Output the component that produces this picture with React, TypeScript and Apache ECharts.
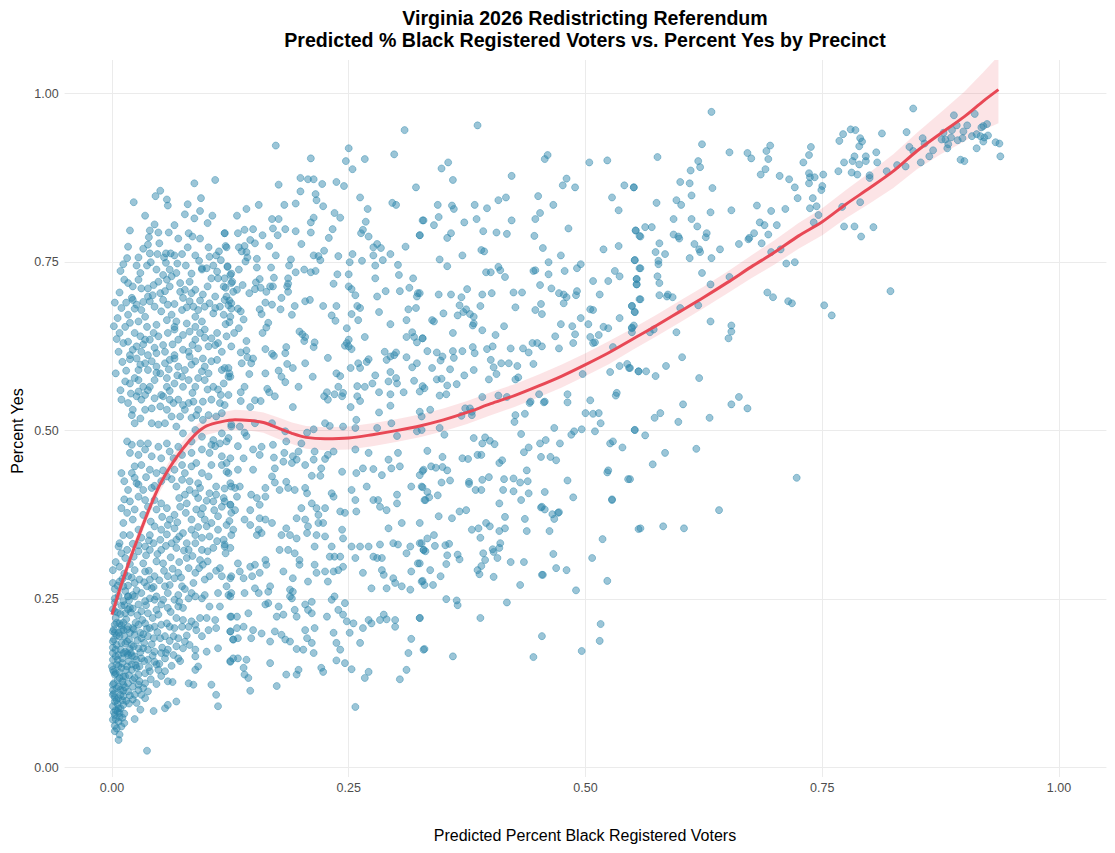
import React, { useEffect, useRef } from "react";
import * as echarts from "echarts";

const TITLE_LINES = [
  "Virginia 2026 Redistricting Referendum",
  "Predicted % Black Registered Voters vs. Percent Yes by Precinct",
];
const X_TITLE = "Predicted Percent Black Registered Voters";
const Y_TITLE = "Percent Yes";
const TICKS = [0, 0.25, 0.5, 0.75, 1];

const ptsTopLeft = [
  [0.087,0.867],[0.109,0.872],[0.051,0.856],[0.046,0.848],[0.058,0.843],[0.059,0.834],[0.023,0.839],[0.094,0.845],[0.080,0.836],
  [0.035,0.819],[0.077,0.821],[0.087,0.815],[0.093,0.826],[0.106,0.819],[0.101,0.808],[0.045,0.806],[0.019,0.797],[0.040,0.797],[0.049,0.794],[0.060,0.794],[0.066,0.805],[0.081,0.793],[0.085,0.788],[0.093,0.785],[0.119,0.793],[0.039,0.787],[0.070,0.785],
  [0.017,0.773],[0.028,0.757],[0.016,0.756],[0.012,0.747],[0.038,0.776],[0.040,0.763],[0.050,0.778],[0.057,0.763],[0.062,0.763],[0.066,0.760],[0.074,0.762],[0.080,0.772],[0.088,0.760],[0.102,0.772],[0.113,0.766],[0.110,0.760],[0.120,0.774],[0.041,0.750],[0.037,0.745],[0.055,0.757],[0.078,0.745],[0.095,0.741],[0.103,0.758],[0.115,0.753],[0.122,0.743],
  [0.013,0.724],[0.017,0.719],[0.028,0.724],[0.022,0.714],[0.031,0.711],[0.038,0.711],[0.044,0.716],[0.049,0.721],[0.054,0.731],[0.058,0.724],[0.063,0.729],[0.068,0.734],[0.072,0.719],[0.077,0.709],[0.082,0.721],[0.088,0.709],[0.095,0.739],[0.100,0.741],[0.105,0.726],[0.111,0.736],[0.112,0.726],[0.118,0.714],[0.125,0.731],[0.126,0.719],[0.121,0.699],[0.109,0.699],[0.096,0.702],[0.084,0.704],[0.072,0.706],[0.061,0.714],[0.051,0.704],[0.038,0.699],[0.021,0.697],[0.030,0.734],[0.047,0.739],[0.061,0.739],
  [0.010,0.682],[0.017,0.672],[0.022,0.694],[0.026,0.687],[0.031,0.679],[0.035,0.669],[0.028,0.662],[0.019,0.660],[0.040,0.692],[0.045,0.684],[0.054,0.694],[0.059,0.687],[0.052,0.677],[0.063,0.672],[0.058,0.664],[0.068,0.662],[0.074,0.679],[0.075,0.697],[0.082,0.692],[0.086,0.684],[0.091,0.679],[0.088,0.669],[0.098,0.684],[0.103,0.689],[0.107,0.674],[0.114,0.684],[0.118,0.672],[0.125,0.669],[0.095,0.662],[0.079,0.659],[0.066,0.654],[0.047,0.657],[0.037,0.654],[0.014,0.654],[0.126,0.689],
];

const ptsUpperLeftExtra = [
  [0.003,0.690],[0.008,0.705],[0.015,0.690],[0.024,0.681],[0.033,0.691],[0.043,0.701],[0.056,0.707],[0.066,0.688],[0.079,0.683],[0.093,0.693],[0.101,0.714],[0.109,0.682],[0.120,0.658],[0.111,0.645],[0.098,0.638],[0.085,0.627],[0.064,0.628],[0.045,0.623],[0.033,0.628],[0.022,0.620],[0.011,0.602],[0.042,0.603],[0.060,0.591],[0.084,0.598],[0.102,0.585],[0.111,0.605],[0.026,0.745],[0.048,0.762],[0.069,0.748],[0.092,0.752],[0.107,0.745],[0.033,0.770],[0.057,0.749],[0.084,0.733],[0.120,0.712],[0.009,0.737],[0.006,0.667],[0.002,0.655],[0.009,0.560],[0.004,0.585],[0.015,0.589],[0.028,0.575],[0.047,0.586],[0.069,0.582],[0.085,0.556],[0.101,0.561],[0.115,0.553],[0.035,0.553],[0.020,0.555],[0.061,0.559],
];

const ptsMidLeft = [
  [0.005,0.636],[0.017,0.632],[0.012,0.630],[0.024,0.645],[0.030,0.640],[0.035,0.635],[0.026,0.625],[0.031,0.617],[0.040,0.635],[0.044,0.645],[0.049,0.640],[0.054,0.627],[0.059,0.645],[0.066,0.650],[0.070,0.635],[0.075,0.642],[0.082,0.647],[0.088,0.654],[0.093,0.645],[0.088,0.635],[0.098,0.650],[0.105,0.637],[0.112,0.630],[0.121,0.640],[0.109,0.627],[0.102,0.625],[0.091,0.622],[0.081,0.617],[0.075,0.620],[0.066,0.612],[0.056,0.617],[0.047,0.615],[0.038,0.612],[0.007,0.617],[0.019,0.612],[0.008,0.645],[0.126,0.625],[0.116,0.617],
  [0.019,0.606],[0.026,0.607],[0.030,0.598],[0.035,0.600],[0.028,0.590],[0.038,0.590],[0.047,0.595],[0.056,0.600],[0.061,0.605],[0.066,0.607],[0.070,0.595],[0.077,0.590],[0.082,0.610],[0.088,0.603],[0.096,0.607],[0.098,0.595],[0.095,0.588],[0.105,0.603],[0.116,0.590],[0.123,0.593],[0.125,0.580],[0.118,0.570],[0.107,0.565],[0.112,0.561],[0.098,0.575],[0.091,0.578],[0.088,0.565],[0.081,0.575],[0.074,0.580],[0.075,0.565],[0.066,0.570],[0.058,0.578],[0.051,0.585],[0.045,0.575],[0.040,0.565],[0.033,0.565],[0.028,0.558],[0.019,0.570],[0.014,0.573],[0.024,0.578],[0.058,0.565],[0.054,0.551],
  [0.010,0.546],[0.017,0.541],[0.022,0.531],[0.021,0.523],[0.026,0.551],[0.031,0.546],[0.038,0.560],[0.045,0.548],[0.052,0.553],[0.061,0.546],[0.065,0.541],[0.070,0.546],[0.075,0.538],[0.077,0.531],[0.081,0.541],[0.086,0.543],[0.091,0.531],[0.096,0.543],[0.105,0.546],[0.114,0.541],[0.119,0.538],[0.116,0.526],[0.110,0.521],[0.102,0.523],[0.096,0.516],[0.089,0.523],[0.084,0.519],[0.072,0.521],[0.063,0.521],[0.058,0.531],[0.051,0.536],[0.042,0.533],[0.035,0.531],[0.030,0.518],[0.024,0.511],[0.042,0.511],[0.049,0.509],[0.056,0.511],[0.068,0.506],[0.075,0.496],[0.088,0.501],[0.095,0.491],[0.107,0.486],[0.116,0.496],[0.126,0.506],
];

const ptsLowerLeft = [
  [0.016,0.484],[0.021,0.479],[0.030,0.481],[0.038,0.481],[0.049,0.476],[0.058,0.481],[0.070,0.476],[0.084,0.484],[0.105,0.479],[0.114,0.481],[0.121,0.484],[0.019,0.467],[0.028,0.464],[0.035,0.472],[0.042,0.462],[0.052,0.459],[0.061,0.469],[0.065,0.459],[0.074,0.464],[0.084,0.467],[0.095,0.472],[0.103,0.467],[0.109,0.477],[0.116,0.462],[0.125,0.459],
  [0.010,0.437],[0.024,0.447],[0.031,0.449],[0.040,0.442],[0.047,0.437],[0.024,0.430],[0.017,0.412],[0.026,0.422],[0.033,0.412],[0.042,0.415],[0.052,0.425],[0.058,0.432],[0.066,0.442],[0.074,0.449],[0.077,0.437],[0.084,0.447],[0.089,0.452],[0.095,0.437],[0.082,0.425],[0.091,0.422],[0.102,0.432],[0.105,0.449],[0.116,0.449],[0.121,0.439],[0.125,0.422],[0.110,0.417],[0.068,0.417],[0.074,0.427],
  [0.010,0.385],[0.016,0.378],[0.012,0.363],[0.019,0.395],[0.028,0.402],[0.022,0.368],[0.035,0.397],[0.038,0.387],[0.045,0.397],[0.047,0.383],[0.052,0.392],[0.058,0.385],[0.061,0.368],[0.066,0.375],[0.072,0.387],[0.077,0.405],[0.079,0.392],[0.088,0.407],[0.091,0.400],[0.089,0.383],[0.096,0.385],[0.098,0.368],[0.103,0.407],[0.107,0.395],[0.118,0.400],[0.116,0.387],[0.125,0.390],[0.112,0.373],[0.126,0.378],[0.105,0.363],[0.084,0.368],
  [0.008,0.333],[0.007,0.328],[0.019,0.345],[0.028,0.353],[0.031,0.341],[0.040,0.345],[0.045,0.358],[0.052,0.353],[0.044,0.333],[0.051,0.338],[0.059,0.360],[0.066,0.355],[0.068,0.338],[0.063,0.333],[0.075,0.348],[0.084,0.353],[0.088,0.345],[0.079,0.333],[0.088,0.333],[0.095,0.341],[0.100,0.358],[0.103,0.343],[0.112,0.353],[0.118,0.338],[0.121,0.360],[0.126,0.345],[0.119,0.328],[0.107,0.326],[0.095,0.323],[0.081,0.323],[0.068,0.326],[0.052,0.323],[0.040,0.323],[0.028,0.321],[0.016,0.323],
  [0.001,0.293],[0.001,0.274],[0.008,0.298],[0.014,0.311],[0.024,0.293],[0.017,0.284],[0.012,0.269],[0.024,0.274],[0.033,0.303],[0.035,0.291],[0.040,0.279],[0.045,0.284],[0.042,0.266],[0.031,0.259],[0.022,0.256],[0.047,0.306],[0.054,0.303],[0.059,0.284],[0.056,0.269],[0.066,0.281],[0.070,0.289],[0.074,0.269],[0.079,0.311],[0.081,0.296],[0.088,0.289],[0.086,0.274],[0.093,0.308],[0.096,0.301],[0.098,0.279],[0.103,0.284],[0.114,0.296],[0.116,0.284],[0.121,0.269],[0.126,0.259],[0.112,0.259],[0.098,0.256],[0.084,0.259],[0.070,0.256],[0.059,0.259],[0.047,0.254],[0.017,0.254],[0.037,0.269],
];

const ptsMidLeftExtra = [
  [0.013,0.425],[0.021,0.437],[0.028,0.420],[0.036,0.431],[0.045,0.418],[0.054,0.441],[0.063,0.428],[0.071,0.400],[0.082,0.412],[0.093,0.415],[0.100,0.396],[0.110,0.405],[0.119,0.414],[0.013,0.398],[0.024,0.383],[0.033,0.375],[0.041,0.365],[0.053,0.372],[0.069,0.364],[0.078,0.378],[0.094,0.376],[0.108,0.382],[0.124,0.366],[0.012,0.345],[0.022,0.332],[0.035,0.328],[0.058,0.346],[0.071,0.343],[0.091,0.357],[0.111,0.336],[0.120,0.318],[0.101,0.321],
];

const ptsBottomLeft = [
  [0.003,0.251],[0.012,0.247],[0.017,0.254],[0.024,0.254],[0.028,0.242],[0.035,0.247],[0.040,0.251],[0.045,0.249],[0.052,0.242],[0.059,0.237],[0.066,0.249],[0.070,0.239],[0.075,0.237],[0.081,0.251],[0.088,0.254],[0.095,0.251],[0.103,0.239],[0.114,0.239],[0.126,0.224],[0.003,0.232],[0.014,0.229],[0.019,0.237],[0.031,0.232],[0.038,0.229],[0.047,0.234],[0.068,0.222],[0.075,0.219],[0.093,0.222],[0.100,0.222],[0.109,0.219],[0.125,0.254],
  [0.003,0.212],[0.008,0.214],[0.001,0.202],[0.007,0.200],[0.012,0.204],[0.017,0.209],[0.022,0.207],[0.028,0.212],[0.035,0.214],[0.040,0.207],[0.045,0.209],[0.052,0.212],[0.058,0.214],[0.061,0.209],[0.066,0.207],[0.074,0.209],[0.081,0.209],[0.088,0.212],[0.024,0.197],[0.031,0.192],[0.038,0.195],[0.044,0.192],[0.051,0.192],[0.056,0.195],[0.065,0.195],[0.070,0.192],[0.077,0.187],[0.082,0.182],[0.089,0.204],[0.095,0.195],[0.102,0.204],[0.110,0.207],[0.125,0.202],[0.128,0.190],
  [0.001,0.187],[0.005,0.182],[0.010,0.185],[0.016,0.187],[0.021,0.182],[0.028,0.177],[0.033,0.177],[0.038,0.175],[0.045,0.172],[0.052,0.170],[0.059,0.175],[0.065,0.167],[0.070,0.162],[0.075,0.177],[0.088,0.175],[0.088,0.165],[0.100,0.172],[0.112,0.177],[0.128,0.162],[0.001,0.170],[0.007,0.167],[0.012,0.170],[0.017,0.167],[0.024,0.165],[0.031,0.162],[0.038,0.160],[0.045,0.157],[0.056,0.162],
  [0.000,0.150],[0.005,0.153],[0.010,0.148],[0.016,0.150],[0.021,0.145],[0.026,0.148],[0.003,0.138],[0.008,0.133],[0.014,0.135],[0.001,0.123],[0.007,0.120],[0.012,0.123],[0.017,0.125],[0.022,0.130],[0.028,0.138],[0.035,0.140],[0.040,0.143],[0.028,0.123],[0.035,0.125],[0.038,0.113],[0.031,0.108],[0.024,0.108],[0.017,0.113],[0.001,0.108],[0.007,0.103],[0.012,0.106],[0.003,0.098],[0.047,0.153],[0.056,0.143],[0.059,0.128],[0.068,0.098],[0.081,0.125],[0.086,0.123],[0.088,0.145],[0.091,0.150],[0.105,0.123],[0.110,0.108],[0.112,0.091],[0.125,0.158],[0.022,0.101],[0.035,0.103],[0.028,0.115],[0.049,0.145],
  [0.001,0.091],[0.007,0.088],[0.012,0.093],[0.003,0.078],[0.008,0.081],[0.001,0.071],[0.007,0.068],[0.010,0.061],[0.003,0.054],[0.007,0.041],[0.024,0.072],[0.030,0.086],[0.044,0.084],[0.056,0.088],[0.059,0.093],[0.037,0.025],
];

const ptsLeftColumn = [
  [0.002,0.190],[0.006,0.160],[0.004,0.140],[0.009,0.175],[0.011,0.155],[0.013,0.195],[0.005,0.215],[0.015,0.220],[0.002,0.125],[0.009,0.115],[0.004,0.085],[0.011,0.100],[0.018,0.190],[0.020,0.170],[0.006,0.230],[0.010,0.240],[0.014,0.262],[0.019,0.200],[0.023,0.180],[0.026,0.160],[0.003,0.062],[0.008,0.075],[0.002,0.110],[0.006,0.130],[0.015,0.145],[0.012,0.135],[0.004,0.175],[0.008,0.195],[0.016,0.205],[0.003,0.245],[0.007,0.255],[0.012,0.215],[0.020,0.230],[0.025,0.215],[0.030,0.200],[0.034,0.185],[0.029,0.150],[0.022,0.120],[0.018,0.095],[0.013,0.080],[0.005,0.100],[0.001,0.145],[0.001,0.160],[0.009,0.088],[0.016,0.170],[0.003,0.200],[0.010,0.205],[0.017,0.235],[0.006,0.270],[0.011,0.280],
];

const ptsDenseCore = [
  [0.001,0.235],[0.004,0.222],[0.009,0.228],[0.013,0.241],[0.018,0.248],[0.022,0.236],[0.027,0.226],[0.032,0.219],[0.036,0.241],[0.043,0.222],[0.049,0.227],[0.054,0.249],[0.062,0.231],[0.071,0.246],
  [0.002,0.205],[0.005,0.196],[0.010,0.211],[0.014,0.184],[0.019,0.176],[0.023,0.205],[0.027,0.189],[0.033,0.198],[0.037,0.206],[0.042,0.183],[0.048,0.201],[0.053,0.178],[0.061,0.188],[0.068,0.180],[0.079,0.196],[0.084,0.217],
  [0.001,0.178],[0.004,0.165],[0.007,0.151],[0.011,0.162],[0.014,0.172],[0.018,0.158],[0.021,0.166],[0.025,0.152],[0.030,0.171],[0.034,0.158],[0.039,0.149],[0.043,0.166],[0.050,0.154],[0.057,0.170],[0.063,0.151],[0.072,0.158],
  [0.002,0.142],[0.005,0.118],[0.008,0.141],[0.011,0.128],[0.014,0.119],[0.018,0.137],[0.021,0.153],[0.024,0.133],[0.029,0.128],[0.033,0.118],[0.041,0.131],[0.047,0.124],[0.052,0.136],[0.064,0.127],
  [0.001,0.115],[0.003,0.104],[0.006,0.094],[0.009,0.108],[0.012,0.114],[0.015,0.099],[0.019,0.107],[0.026,0.096],[0.004,0.072],[0.006,0.083],[0.011,0.074],[0.002,0.082],[0.005,0.058],[0.008,0.049],[0.013,0.066],
  [0.003,0.265],[0.008,0.276],[0.013,0.288],[0.017,0.270],[0.021,0.282],[0.026,0.263],[0.029,0.279],[0.034,0.275],[0.039,0.292],[0.044,0.268],[0.050,0.278],[0.055,0.292],[0.061,0.271],[0.064,0.295],[0.073,0.282],[0.077,0.265],
  [0.004,0.305],[0.010,0.318],[0.019,0.302],[0.023,0.313],[0.028,0.330],[0.036,0.315],[0.039,0.337],[0.048,0.317],[0.057,0.329],[0.062,0.312],[0.071,0.305],[0.076,0.322],[0.085,0.314],[0.092,0.296],[0.101,0.306],[0.110,0.292],
];

const ptsUpperMid = [
  [0.309,0.946],[0.173,0.923],[0.250,0.919],[0.210,0.904],[0.298,0.910],[0.247,0.900],[0.267,0.903],[0.254,0.888],[0.199,0.875],[0.207,0.873],[0.213,0.873],[0.222,0.866],[0.176,0.865],[0.237,0.869],[0.245,0.863],[0.321,0.861],[0.199,0.855],[0.215,0.851],[0.216,0.842],[0.262,0.846],[0.155,0.835],[0.182,0.835],[0.194,0.837],[0.223,0.833],[0.142,0.829],[0.270,0.829],[0.296,0.838],[0.300,0.835],[0.235,0.823],[0.132,0.819],[0.241,0.816],[0.213,0.816],[0.210,0.809],[0.169,0.814],[0.176,0.814],[0.268,0.810],[0.328,0.812],
  [0.119,0.793],[0.133,0.793],[0.140,0.798],[0.149,0.799],[0.159,0.790],[0.175,0.790],[0.170,0.800],[0.183,0.799],[0.194,0.796],[0.210,0.794],[0.233,0.799],[0.229,0.786],[0.263,0.793],[0.265,0.798],[0.271,0.788],[0.325,0.790],[0.146,0.783],[0.151,0.778],[0.166,0.774],[0.200,0.777],[0.121,0.772],[0.134,0.772],[0.140,0.774],[0.137,0.766],[0.142,0.765],[0.276,0.772],[0.280,0.777],[0.284,0.771],[0.310,0.773],
  [0.143,0.757],[0.141,0.751],[0.153,0.755],[0.173,0.760],[0.189,0.754],[0.213,0.760],[0.218,0.759],[0.224,0.767],[0.220,0.753],[0.239,0.759],[0.254,0.762],[0.264,0.752],[0.276,0.760],[0.286,0.753],[0.294,0.762],[0.122,0.744],[0.126,0.733],[0.134,0.739],[0.153,0.742],[0.168,0.742],[0.187,0.745],[0.119,0.726],[0.127,0.721],[0.171,0.727],[0.194,0.735],[0.203,0.739],[0.210,0.735],[0.215,0.737],[0.238,0.732],[0.250,0.732],[0.251,0.750],[0.278,0.745],[0.278,0.726],[0.302,0.746],[0.303,0.731],[0.318,0.726],
  [0.128,0.706],[0.138,0.716],[0.132,0.709],[0.152,0.720],[0.156,0.725],[0.157,0.712],[0.151,0.710],[0.163,0.706],[0.167,0.714],[0.170,0.714],[0.145,0.704],[0.186,0.726],[0.186,0.718],[0.186,0.706],[0.185,0.714],[0.234,0.718],[0.250,0.714],[0.253,0.710],[0.257,0.701],[0.280,0.699],[0.289,0.707],[0.304,0.707],[0.314,0.712],[0.322,0.699],[0.323,0.704],
  [0.119,0.694],[0.124,0.693],[0.123,0.686],[0.126,0.681],[0.133,0.681],[0.136,0.677],[0.139,0.665],[0.124,0.661],[0.134,0.652],[0.129,0.645],[0.156,0.680],[0.158,0.673],[0.162,0.690],[0.169,0.687],[0.178,0.680],[0.179,0.697],[0.190,0.672],[0.193,0.685],[0.204,0.692],[0.209,0.694],[0.223,0.685],[0.237,0.685],[0.232,0.671],[0.236,0.663],[0.253,0.673],[0.260,0.664],[0.259,0.685],[0.262,0.682],[0.282,0.676],[0.294,0.658],[0.311,0.664],[0.313,0.680],[0.321,0.682],
  [0.165,0.660],[0.163,0.653],[0.159,0.645],[0.142,0.633],[0.198,0.647],[0.201,0.643],[0.204,0.639],[0.203,0.633],[0.214,0.631],[0.213,0.624],[0.248,0.652],[0.250,0.635],[0.248,0.630],[0.250,0.625],[0.253,0.621],[0.246,0.626],[0.267,0.639],[0.311,0.639],[0.317,0.646],[0.319,0.639],[0.322,0.631],[0.328,0.637],
  [0.136,0.616],[0.142,0.619],[0.143,0.609],[0.137,0.600],[0.149,0.607],[0.147,0.600],[0.162,0.621],[0.169,0.614],[0.171,0.611],[0.184,0.624],[0.183,0.615],[0.204,0.600],[0.228,0.608],[0.119,0.593],[0.123,0.580],[0.124,0.585],[0.145,0.584],[0.162,0.585],[0.176,0.589],[0.179,0.580],[0.183,0.572],[0.185,0.599],[0.191,0.593],[0.212,0.580],[0.237,0.585],[0.241,0.581],[0.252,0.593],[0.260,0.600],[0.262,0.593],[0.269,0.602],[0.271,0.606],
  [0.278,0.582],[0.288,0.617],[0.290,0.605],[0.294,0.610],[0.298,0.612],[0.300,0.616],[0.294,0.587],[0.300,0.578],[0.311,0.609],[0.317,0.594],[0.322,0.600],[0.319,0.574],[0.328,0.566],
  [0.123,0.553],[0.136,0.557],[0.140,0.565],[0.136,0.544],[0.164,0.562],[0.166,0.557],[0.172,0.551],[0.197,0.565],[0.227,0.557],[0.224,0.551],[0.228,0.546],[0.235,0.554],[0.239,0.565],[0.243,0.551],[0.244,0.556],[0.252,0.535],[0.259,0.566],[0.262,0.544],[0.259,0.551],[0.267,0.565],[0.275,0.570],[0.282,0.557],[0.294,0.554],[0.292,0.573],[0.301,0.570],[0.308,0.557],[0.191,0.535],[0.151,0.545],[0.146,0.535],[0.157,0.544],[0.294,0.537],[0.282,0.527],
];

const ptsLowerMid = [
  [0.126,0.509],[0.135,0.506],[0.140,0.497],[0.151,0.511],[0.169,0.511],[0.183,0.499],[0.206,0.497],[0.213,0.502],[0.225,0.511],[0.230,0.507],[0.244,0.506],[0.257,0.504],[0.258,0.516],[0.280,0.504],[0.295,0.511],[0.301,0.492],[0.322,0.499],[0.123,0.489],[0.142,0.492],[0.184,0.484],[0.200,0.481],[0.234,0.469],[0.257,0.472],
  [0.133,0.477],[0.149,0.472],[0.156,0.464],[0.158,0.476],[0.170,0.479],[0.171,0.460],[0.182,0.467],[0.181,0.454],[0.172,0.444],[0.169,0.432],[0.172,0.423],[0.162,0.415],[0.191,0.462],[0.195,0.457],[0.197,0.469],[0.190,0.452],[0.204,0.449],[0.214,0.469],[0.213,0.457],[0.225,0.458],[0.228,0.464],[0.221,0.444],[0.211,0.433],[0.220,0.433],
  [0.121,0.452],[0.123,0.437],[0.133,0.442],[0.139,0.459],[0.149,0.442],[0.126,0.417],[0.130,0.415],[0.135,0.417],[0.243,0.439],[0.258,0.437],[0.265,0.444],[0.271,0.467],[0.276,0.443],[0.285,0.434],[0.292,0.457],[0.295,0.444],[0.302,0.467],[0.304,0.447],[0.325,0.434],[0.329,0.442],
  [0.184,0.424],[0.186,0.415],[0.193,0.412],[0.204,0.415],[0.206,0.407],[0.177,0.412],[0.162,0.402],[0.153,0.400],[0.147,0.405],[0.132,0.402],[0.119,0.395],[0.125,0.390],[0.130,0.382],[0.146,0.382],[0.156,0.390],
  [0.211,0.392],[0.216,0.385],[0.218,0.375],[0.225,0.385],[0.232,0.407],[0.234,0.402],[0.241,0.380],[0.246,0.378],[0.253,0.412],[0.257,0.397],[0.258,0.380],[0.269,0.417],[0.276,0.397],[0.281,0.397],[0.283,0.387],[0.290,0.382],[0.301,0.392],[0.301,0.405],[0.306,0.363],[0.316,0.417],[0.327,0.417],[0.330,0.397],
  [0.128,0.353],[0.140,0.368],[0.146,0.360],[0.156,0.370],[0.162,0.368],[0.169,0.363],[0.155,0.353],[0.153,0.345],[0.158,0.348],[0.179,0.345],[0.184,0.355],[0.188,0.345],[0.195,0.340],[0.195,0.370],[0.204,0.368],[0.200,0.385],[0.207,0.358],[0.206,0.348],[0.218,0.363],[0.223,0.363],[0.216,0.345],[0.243,0.353],[0.244,0.340],[0.225,0.343],[0.232,0.328],[0.214,0.328],
  [0.253,0.328],[0.257,0.311],[0.262,0.328],[0.271,0.328],[0.276,0.313],[0.280,0.311],[0.283,0.331],[0.285,0.311],[0.292,0.355],[0.297,0.333],[0.302,0.331],[0.311,0.318],[0.315,0.328],[0.323,0.303],[0.327,0.333],[0.329,0.323],
  [0.119,0.331],[0.125,0.326],[0.126,0.284],[0.125,0.281],[0.133,0.303],[0.135,0.291],[0.146,0.298],[0.151,0.301],[0.139,0.281],[0.148,0.284],[0.151,0.266],[0.156,0.289],[0.162,0.308],[0.163,0.301],
  [0.177,0.323],[0.186,0.323],[0.193,0.318],[0.198,0.308],[0.198,0.301],[0.181,0.291],[0.191,0.281],[0.188,0.264],[0.191,0.261],[0.207,0.276],[0.214,0.301],[0.216,0.289],[0.225,0.291],[0.228,0.276],[0.230,0.313],[0.235,0.313],[0.241,0.313],[0.244,0.298],[0.234,0.291],[0.239,0.293],
  [0.265,0.289],[0.274,0.266],[0.285,0.293],[0.287,0.286],[0.290,0.266],[0.297,0.281],[0.299,0.274],[0.306,0.269],[0.315,0.264],[0.316,0.291],[0.327,0.276],[0.330,0.271],
  [0.123,0.256],[0.140,0.259],[0.155,0.259],[0.165,0.261],[0.167,0.269],[0.165,0.244],[0.162,0.242],[0.176,0.239],[0.188,0.254],[0.190,0.251],
  [0.204,0.242],[0.211,0.246],[0.207,0.234],[0.211,0.229],[0.232,0.249],[0.235,0.254],[0.239,0.234],[0.244,0.227],[0.246,0.244],[0.248,0.217],[0.255,0.214],[0.227,0.224],
  [0.125,0.224],[0.132,0.224],[0.144,0.229],[0.125,0.202],[0.132,0.207],[0.139,0.209],[0.149,0.204],[0.158,0.199],[0.133,0.192],[0.128,0.190],[0.147,0.192],[0.167,0.187],
  [0.174,0.224],[0.181,0.227],[0.193,0.234],[0.195,0.224],[0.172,0.202],[0.179,0.197],[0.183,0.190],[0.188,0.187],[0.195,0.176],[0.202,0.175],[0.206,0.192],[0.211,0.185],[0.204,0.204],[0.214,0.207],[0.213,0.170],
  [0.234,0.200],[0.237,0.185],[0.241,0.175],[0.251,0.200],[0.262,0.185],[0.265,0.207],[0.271,0.219],[0.274,0.214],[0.283,0.219],[0.287,0.227],[0.290,0.220],[0.299,0.219],[0.299,0.209],[0.316,0.191],[0.325,0.222],[0.329,0.175],[0.313,0.170],
  [0.125,0.157],[0.133,0.162],[0.142,0.160],[0.139,0.148],[0.140,0.138],[0.144,0.133],[0.146,0.114],[0.167,0.155],[0.174,0.121],[0.184,0.138],[0.197,0.145],[0.195,0.138],[0.221,0.148],[0.223,0.142],[0.237,0.159],[0.246,0.155],[0.253,0.146],[0.267,0.133],[0.271,0.142],[0.304,0.131],[0.311,0.145],[0.257,0.090],
];

const ptsUpperCenter = [
  [0.386,0.953],[0.348,0.889],[0.355,0.898],[0.360,0.872],[0.457,0.903],[0.460,0.909],[0.504,0.898],[0.523,0.901],[0.422,0.878],[0.480,0.874],[0.476,0.864],[0.489,0.861],[0.541,0.864],[0.551,0.861],[0.528,0.846],[0.535,0.827],
  [0.450,0.848],[0.416,0.846],[0.408,0.842],[0.396,0.830],[0.383,0.835],[0.385,0.814],[0.359,0.834],[0.361,0.829],[0.344,0.835],[0.345,0.817],[0.340,0.805],[0.329,0.812],[0.325,0.790],[0.466,0.835],[0.452,0.823],[0.447,0.814],
  [0.372,0.809],[0.392,0.796],[0.406,0.794],[0.417,0.792],[0.422,0.812],[0.358,0.793],[0.354,0.786],[0.446,0.789],[0.455,0.771],[0.482,0.800],[0.553,0.797],[0.557,0.789],[0.519,0.769],[0.535,0.774],
  [0.370,0.760],[0.346,0.754],[0.354,0.744],[0.390,0.768],[0.393,0.766],[0.408,0.743],[0.410,0.738],[0.395,0.735],[0.400,0.735],[0.415,0.728],[0.445,0.737],[0.447,0.738],[0.461,0.750],[0.461,0.732],[0.478,0.737],[0.474,0.760],[0.491,0.741],[0.495,0.747],
  [0.531,0.737],[0.536,0.729],[0.552,0.753],[0.557,0.741],[0.508,0.722],[0.524,0.722],[0.554,0.725],[0.554,0.717],
  [0.325,0.704],[0.345,0.702],[0.358,0.702],[0.369,0.698],[0.375,0.710],[0.391,0.702],[0.401,0.704],[0.424,0.705],[0.433,0.705],[0.452,0.716],[0.464,0.711],[0.472,0.704],[0.477,0.702],[0.480,0.698],[0.491,0.707],[0.490,0.701],[0.515,0.702],[0.557,0.695],
  [0.367,0.686],[0.374,0.680],[0.371,0.676],[0.378,0.673],[0.365,0.671],[0.382,0.669],[0.389,0.685],[0.350,0.674],[0.338,0.664],[0.340,0.662],[0.426,0.683],[0.447,0.679],[0.453,0.688],[0.454,0.673],[0.477,0.689],
  [0.505,0.680],[0.508,0.679],[0.495,0.667],[0.536,0.667],[0.549,0.685],[0.552,0.676],[0.381,0.656],[0.382,0.659],[0.360,0.645],[0.391,0.649],[0.414,0.655],[0.405,0.642],
  [0.474,0.658],[0.486,0.655],[0.489,0.643],[0.468,0.640],[0.503,0.658],[0.519,0.654],[0.524,0.652],[0.549,0.652],[0.551,0.656],
  [0.328,0.637],[0.333,0.618],[0.343,0.616],[0.349,0.610],[0.347,0.604],[0.338,0.593],[0.360,0.618],[0.361,0.608],[0.370,0.618],[0.381,0.624],[0.383,0.615],[0.396,0.621],[0.402,0.625],[0.400,0.605],
  [0.403,0.594],[0.406,0.584],[0.398,0.576],[0.411,0.600],[0.419,0.600],[0.428,0.596],[0.421,0.622],[0.434,0.622],[0.440,0.616],[0.444,0.630],[0.449,0.630],[0.454,0.625],[0.472,0.622],[0.487,0.630],
  [0.445,0.599],[0.426,0.576],[0.429,0.579],[0.357,0.591],[0.372,0.582],[0.382,0.590],[0.343,0.576],[0.348,0.577],[0.354,0.567],[0.364,0.569],[0.330,0.563],[0.325,0.558],[0.346,0.552],[0.353,0.554],
  [0.391,0.550],[0.408,0.552],[0.417,0.550],[0.441,0.541],[0.442,0.543],[0.451,0.554],[0.456,0.542],[0.481,0.554],[0.481,0.542],[0.505,0.545],
  [0.497,0.584],[0.526,0.587],[0.536,0.596],[0.544,0.599],[0.546,0.593],[0.556,0.588],[0.533,0.556],[0.532,0.552],[0.505,0.639],[0.508,0.630],[0.510,0.631],[0.514,0.642],[0.529,0.624],[0.373,0.533],[0.378,0.533],
];

const ptsLowerCenter = [
  [0.325,0.528],[0.336,0.531],[0.327,0.521],[0.380,0.528],[0.380,0.523],[0.369,0.522],[0.327,0.501],[0.346,0.504],[0.351,0.494],
  [0.426,0.523],[0.436,0.525],[0.425,0.513],[0.457,0.543],[0.500,0.526],[0.508,0.525],[0.514,0.526],[0.516,0.511],[0.510,0.499],[0.496,0.502],[0.488,0.499],[0.485,0.494],[0.467,0.504],[0.552,0.501],
  [0.382,0.489],[0.394,0.490],[0.391,0.481],[0.399,0.485],[0.404,0.480],[0.432,0.495],[0.440,0.475],[0.435,0.468],[0.452,0.481],[0.458,0.486],[0.473,0.481],[0.526,0.481],[0.529,0.484],[0.539,0.475],
  [0.333,0.470],[0.349,0.461],[0.370,0.459],[0.376,0.458],[0.386,0.464],[0.390,0.464],[0.409,0.452],[0.412,0.456],[0.453,0.461],[0.463,0.461],[0.469,0.456],
  [0.328,0.440],[0.337,0.447],[0.342,0.445],[0.349,0.446],[0.354,0.441],[0.348,0.423],[0.357,0.426],
  [0.377,0.424],[0.377,0.421],[0.384,0.412],[0.390,0.412],[0.391,0.427],[0.398,0.431],[0.414,0.428],[0.413,0.412],[0.424,0.429],[0.424,0.410],[0.431,0.423],[0.439,0.425],[0.440,0.407],[0.432,0.397],[0.438,0.441],
  [0.457,0.409],[0.481,0.426],[0.487,0.401],[0.523,0.438],[0.524,0.441],[0.528,0.398],[0.545,0.428],
  [0.328,0.416],[0.333,0.409],[0.331,0.397],[0.335,0.401],[0.344,0.404],[0.409,0.392],[0.367,0.380],[0.374,0.382],[0.359,0.370],[0.345,0.373],[0.325,0.363],
  [0.453,0.386],[0.457,0.383],[0.465,0.376],[0.467,0.369],[0.472,0.379],[0.436,0.369],[0.415,0.372],[0.454,0.387],[0.471,0.378],[0.462,0.351],
  [0.380,0.353],[0.387,0.355],[0.395,0.363],[0.399,0.358],[0.409,0.351],[0.415,0.355],[0.438,0.351],[0.389,0.341],
  [0.333,0.340],[0.340,0.345],[0.325,0.333],[0.341,0.329],[0.352,0.330],[0.356,0.332],[0.329,0.323],[0.331,0.321],
  [0.410,0.333],[0.409,0.326],[0.402,0.324],[0.403,0.320],[0.392,0.318],[0.407,0.311],[0.394,0.308],[0.354,0.315],[0.365,0.316],[0.367,0.309],[0.353,0.302],[0.325,0.303],
  [0.421,0.305],[0.435,0.305],[0.466,0.317],[0.469,0.296],[0.480,0.293],[0.507,0.311],[0.518,0.339],[0.556,0.354],[0.528,0.397],[0.455,0.286],
  [0.390,0.299],[0.386,0.293],[0.388,0.287],[0.403,0.283],[0.336,0.293],[0.347,0.284],[0.328,0.277],[0.339,0.271],
  [0.431,0.271],[0.454,0.286],[0.490,0.263],[0.523,0.277],[0.353,0.250],[0.364,0.248],[0.365,0.241],[0.417,0.245],[0.325,0.222],[0.389,0.222],
  [0.516,0.213],[0.515,0.188],[0.496,0.173],[0.454,0.195],[0.445,0.164],[0.330,0.176],[0.360,0.165],
];

const ptsRight = [
  [0.633,0.973],[0.846,0.978],[0.889,0.968],[0.911,0.970],
  [0.768,0.930],[0.772,0.940],[0.780,0.947],[0.785,0.946],[0.790,0.934],[0.792,0.929],[0.789,0.922],[0.813,0.941],[0.839,0.943],
  [0.856,0.934],[0.858,0.926],[0.842,0.921],[0.846,0.915],
  [0.878,0.942],[0.887,0.946],[0.892,0.953],[0.903,0.953],[0.899,0.944],[0.898,0.934],[0.893,0.931],[0.886,0.935],[0.880,0.932],[0.876,0.932],[0.883,0.925],[0.882,0.919],[0.908,0.937],[0.913,0.940],[0.917,0.937],[0.921,0.935],[0.918,0.950],[0.920,0.952],[0.924,0.955],[0.925,0.938],[0.920,0.929],[0.913,0.919],[0.933,0.928],[0.937,0.926],[0.938,0.907],[0.896,0.902],[0.900,0.900],
  [0.867,0.916],[0.863,0.907],[0.854,0.898],[0.838,0.892],[0.829,0.894],
  [0.807,0.913],[0.808,0.898],[0.796,0.907],[0.796,0.900],[0.784,0.907],[0.782,0.900],[0.773,0.898],[0.789,0.895],[0.787,0.880],[0.781,0.883],[0.800,0.879],[0.800,0.875],[0.818,0.885],[0.767,0.885],
  [0.790,0.839],[0.771,0.832],[0.773,0.803],[0.784,0.803],[0.791,0.788],[0.804,0.802],[0.822,0.707],
  [0.738,0.921],[0.736,0.909],[0.730,0.898],[0.751,0.880],[0.736,0.882],[0.737,0.876],[0.742,0.876],[0.736,0.867],[0.750,0.863],[0.749,0.857],[0.721,0.861],[0.715,0.873],[0.705,0.878],[0.724,0.845],[0.740,0.845],[0.737,0.830],[0.744,0.833],[0.746,0.820],[0.741,0.809],
  [0.695,0.923],[0.691,0.915],[0.693,0.903],[0.690,0.888],[0.685,0.880],[0.671,0.912],[0.675,0.904],[0.652,0.913],
  [0.623,0.925],[0.619,0.900],[0.621,0.891],[0.611,0.886],[0.576,0.906],[0.600,0.869],[0.610,0.867],[0.634,0.860],[0.612,0.849],[0.596,0.842],[0.601,0.835],[0.575,0.838],[0.551,0.861],
  [0.681,0.834],[0.696,0.826],[0.711,0.829],[0.654,0.827],[0.632,0.824],[0.593,0.814],[0.612,0.814],[0.618,0.803],[0.628,0.793],[0.627,0.787],[0.598,0.788],[0.599,0.785],[0.593,0.791],[0.570,0.802],[0.563,0.802],[0.553,0.797],[0.558,0.788],
  [0.684,0.809],[0.689,0.805],[0.702,0.805],[0.678,0.793],[0.673,0.786],[0.672,0.784],[0.693,0.791],[0.686,0.778],[0.662,0.777],[0.615,0.777],[0.620,0.769],[0.621,0.765],[0.642,0.769],[0.578,0.778],[0.574,0.765],[0.584,0.762],[0.577,0.752],[0.577,0.747],[0.552,0.753],[0.610,0.756],[0.633,0.756],
  [0.696,0.765],[0.706,0.769],[0.712,0.748],[0.721,0.750],
  [0.558,0.741],[0.554,0.725],[0.554,0.717],[0.576,0.729],[0.578,0.719],[0.578,0.701],[0.587,0.702],[0.586,0.699],[0.592,0.698],[0.623,0.734],[0.652,0.728],[0.632,0.717],
  [0.692,0.705],[0.698,0.698],[0.714,0.692],[0.718,0.689],[0.752,0.686],[0.760,0.671],
  [0.558,0.695],[0.549,0.685],[0.552,0.676],[0.600,0.682],[0.619,0.686],[0.632,0.662],[0.596,0.646],[0.654,0.656],[0.654,0.647],[0.651,0.637],[0.549,0.653],[0.549,0.646],[0.568,0.646],[0.572,0.650],
  [0.602,0.609],[0.585,0.596],[0.556,0.588],[0.564,0.588],[0.574,0.581],[0.547,0.593],[0.620,0.578],
  [0.662,0.550],[0.654,0.539],[0.671,0.533],[0.603,0.539],[0.579,0.526],[0.573,0.519],[0.598,0.513],[0.631,0.519],[0.552,0.501],[0.563,0.493],
  [0.617,0.473],[0.584,0.467],[0.571,0.450],[0.547,0.428],[0.723,0.430],[0.641,0.382],[0.558,0.355],[0.582,0.358],[0.604,0.355],
];

// LOESS fit, with the half-width of its confidence band
const smoothX = [0,0.01,0.02,0.03,0.04,0.05,0.06,0.07,0.08,0.09,0.1,0.115,0.13,0.145,0.16,0.175,0.19,0.205,0.225,0.25,0.275,0.3,0.325,0.35,0.375,0.4,0.425,0.45,0.475,0.5,0.525,0.55,0.575,0.6,0.625,0.65,0.675,0.7,0.725,0.75,0.775,0.8,0.825,0.85,0.875,0.9,0.92,0.936];
const smoothY = [0.227,0.272,0.313,0.35,0.386,0.418,0.443,0.464,0.482,0.497,0.507,0.513,0.516,0.515,0.512,0.504,0.496,0.49,0.488,0.489,0.494,0.5,0.507,0.516,0.527,0.54,0.552,0.566,0.581,0.598,0.616,0.636,0.656,0.677,0.698,0.72,0.743,0.765,0.789,0.81,0.836,0.86,0.885,0.915,0.941,0.966,0.989,1.006];
const bandHalf = [0.012,0.01,0.009,0.009,0.009,0.01,0.01,0.011,0.012,0.012,0.013,0.014,0.015,0.015,0.015,0.016,0.016,0.017,0.017,0.017,0.017,0.017,0.017,0.017,0.017,0.017,0.017,0.017,0.017,0.017,0.017,0.016,0.016,0.016,0.016,0.016,0.017,0.018,0.019,0.02,0.021,0.023,0.025,0.027,0.031,0.037,0.043,0.05];

const FONT = "'Liberation Sans', Arial, 'DejaVu Sans', sans-serif";
const POINT = "rgba(46,134,171,0.6)";
const LINE = "#E84855";

export default function App() {
  const ref = useRef<HTMLDivElement>(null);

  useEffect(() => {
    document.body.style.margin = "0";
    if (!ref.current) return;
    const chart = echarts.init(ref.current, null, { renderer: "svg" });

    const points = [
      ...ptsTopLeft, ...ptsUpperLeftExtra, ...ptsMidLeft, ...ptsLowerLeft, ...ptsMidLeftExtra,
      ...ptsBottomLeft, ...ptsLeftColumn, ...ptsDenseCore,
      ...ptsUpperMid, ...ptsLowerMid, ...ptsUpperCenter, ...ptsLowerCenter, ...ptsRight,
    ];
    const curve = smoothX.map((x, i) => [x, smoothY[i]]);

    const fmt = (v: number) => v.toFixed(2);
    const gridLine = { show: true, lineStyle: { color: "#EBEBEB", width: 1 } };
    const tickLabel = {
      customValues: TICKS,
      formatter: fmt,
      color: "#4D4D4D",
      fontSize: 12.5,
      fontFamily: FONT,
    };

    chart.setOption({
      animation: false,
      backgroundColor: "#ffffff",
      grid: { left: 64.6, right: 8.6, top: 60, bottom: 76 },
      xAxis: {
        type: "value",
        min: -0.05,
        max: 1.05,
        axisLine: { show: false },
        axisTick: { show: false, customValues: TICKS },
        axisLabel: { ...tickLabel, margin: 4 },
        splitLine: gridLine,
      },
      yAxis: {
        type: "value",
        min: -0.014,
        max: 1.05,
        axisLine: { show: false },
        axisTick: { show: false, customValues: TICKS },
        axisLabel: { ...tickLabel, margin: 6 },
        splitLine: gridLine,
      },
      graphic: [
        {
          type: "text",
          x: 585,
          y: 18,
          style: {
            text: TITLE_LINES[0],
            fill: "#000",
            font: `bold 19.6px ${FONT}`,
            textAlign: "center",
            textVerticalAlign: "middle",
          },
        },
        {
          type: "text",
          x: 585,
          y: 40,
          style: {
            text: TITLE_LINES[1],
            fill: "#000",
            font: `bold 19.6px ${FONT}`,
            textAlign: "center",
            textVerticalAlign: "middle",
          },
        },
        {
          type: "text",
          x: 585,
          y: 835,
          style: {
            text: X_TITLE,
            fill: "#000",
            font: `16px ${FONT}`,
            textAlign: "center",
            textVerticalAlign: "middle",
          },
        },
        {
          type: "text",
          x: 17,
          y: 431,
          rotation: Math.PI / 2,
          style: {
            text: Y_TITLE,
            fill: "#000",
            font: `16px ${FONT}`,
            textAlign: "center",
            textVerticalAlign: "middle",
          },
        },
      ],
      series: [
        {
          type: "scatter",
          data: points,
          symbolSize: 7,
          progressive: 0,
          silent: true,
          itemStyle: { color: POINT, borderColor: "rgba(46,134,171,0.55)", borderWidth: 1 },
        },
        {
          type: "custom",
          clip: true,
          silent: true,
          data: [[0, 0]],
          renderItem: (params: any, api: any) => {
            if (params.dataIndex !== 0) return null;
            const top = smoothX.map((x, i) => api.coord([x, smoothY[i] + bandHalf[i]]));
            const bot = smoothX.map((x, i) => api.coord([x, smoothY[i] - bandHalf[i]])).reverse();
            return {
              type: "polygon",
              shape: { points: top.concat(bot) },
              style: { fill: "rgba(232,72,85,0.15)" },
            };
          },
        },
        {
          type: "line",
          data: curve,
          showSymbol: false,
          smooth: 0.3,
          clip: true,
          silent: true,
          lineStyle: { color: LINE, width: 3 },
        },
      ],
    });

    return () => chart.dispose();
  }, []);

  return <div ref={ref} style={{ width: 1115, height: 853 }} />;
}
